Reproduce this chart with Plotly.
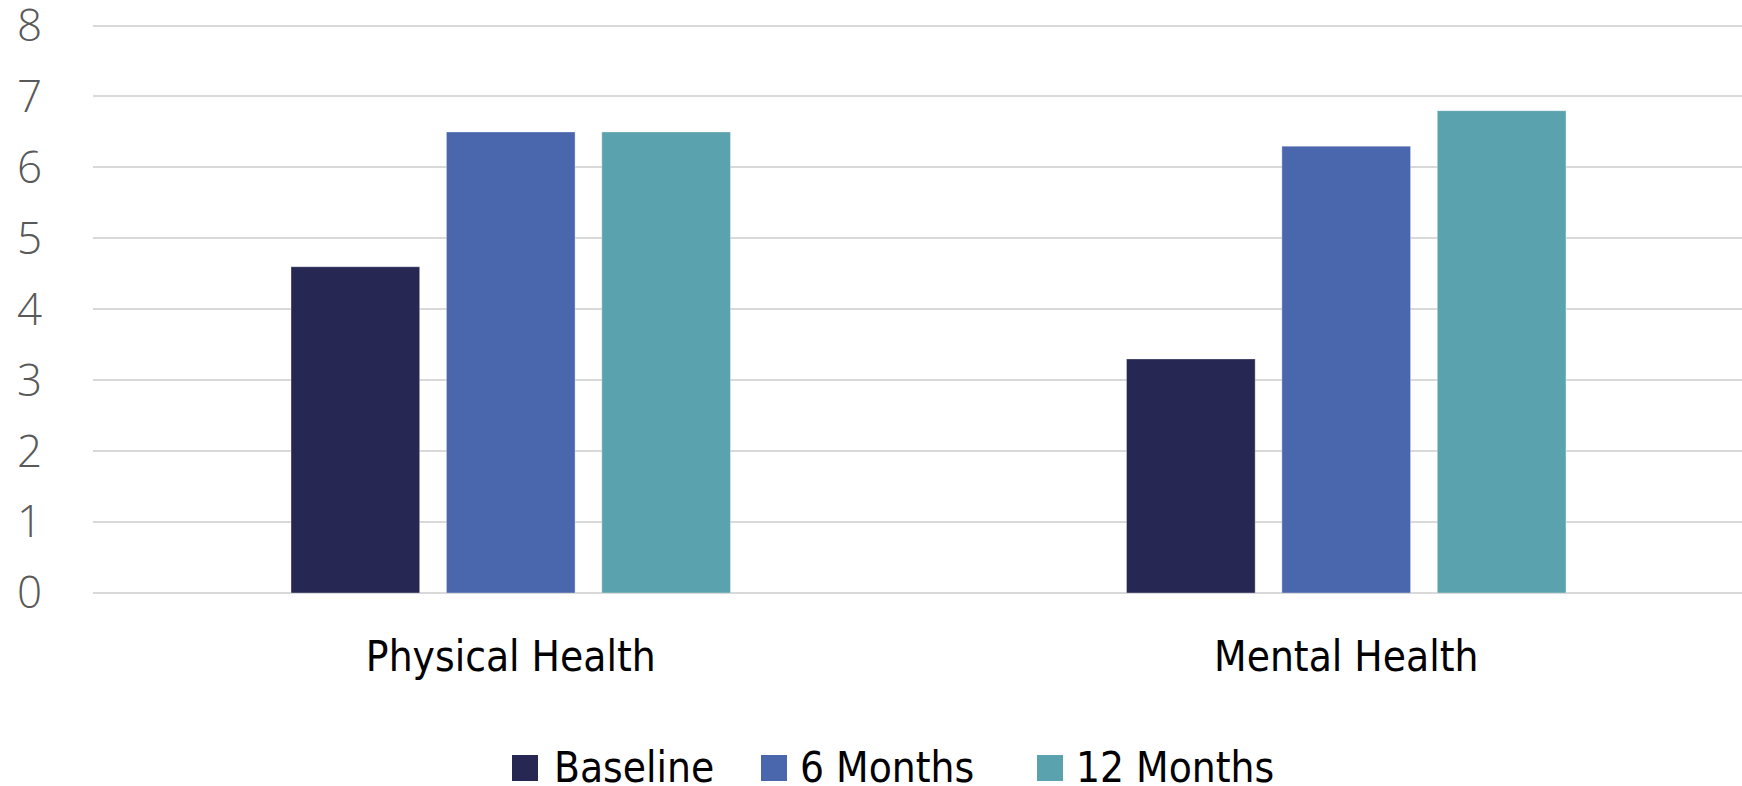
import plotly.graph_objects as go

categories = ["Physical Health", "Mental Health"]
series_names = ["Baseline", "6 Months", "12 Months"]
baseline = [4.6, 3.3]
six_months = [6.5, 6.3]
twelve_months = [6.5, 6.8]
y_ticks = [0, 1, 2, 3, 4, 5, 6, 7, 8]

colors = ["#262853", "#4A66AC", "#5AA2AE"]
label_font = "Liberation Sans Narrow, DejaVu Sans Condensed, sans-serif"

# plot area in pixels
W, H = 1742, 786
L, R, T, B = 93, 0, 22, 193
pw, ph = W - L - R, H - T - B


def px_x(px):
    return (px - L) / pw


def px_y(py):
    return (H - B - py) / ph


fig = go.Figure()
for name, vals, col in zip(series_names, [baseline, six_months, twelve_months], colors):
    fig.add_trace(go.Bar(
        x=[0, 1], y=vals, name=name,
        marker=dict(color=col, line=dict(color="rgba(255,255,255,0.35)", width=1)),
        showlegend=False,
    ))

# legend drawn below the axis: colour swatch + label per series
swatch_left = [512, 761, 1037]
text_left = [552, 798, 1074]
legend_mid = 767
for name, col, sx, tx in zip(series_names, colors, swatch_left, text_left):
    fig.add_shape(
        type="rect", xref="paper", yref="paper",
        x0=px_x(sx), x1=px_x(sx + 26), y0=px_y(legend_mid + 14), y1=px_y(legend_mid - 12),
        fillcolor=col, line=dict(width=0),
    )
    fig.add_annotation(
        xref="paper", yref="paper", x=px_x(tx), y=px_y(legend_mid),
        xanchor="left", yanchor="middle", showarrow=False, text=name,
        font=dict(family=label_font, size=42, color="#000000"),
    )

fig.update_layout(
    width=W, height=H,
    margin=dict(l=L, r=R, t=T, b=B, autoexpand=False),
    paper_bgcolor="white", plot_bgcolor="white",
    barmode="group", bargap=0.442, bargroupgap=0.172,
    showlegend=False,
    xaxis=dict(
        range=[-0.5, 1.4737],
        tickmode="array", tickvals=[0, 1], ticktext=categories,
        showgrid=False, zeroline=False, showline=False, ticks="",
        tickfont=dict(family=label_font, size=42, color="#000000"),
        ticklabelstandoff=35,
    ),
    yaxis=dict(
        range=[0, 8.05], tickmode="array", tickvals=y_ticks,
        showgrid=True, gridcolor="#D9D9D9", gridwidth=1.5,
        zeroline=True, zerolinecolor="#D9D9D9", zerolinewidth=1.5,
        showline=False, ticks="",
        tickfont=dict(family="Open Sans", size=44, color="#595959", weight=300),
        ticklabelstandoff=50, ticklabeloverflow="allow",
    ),
)

fig.write_html("out.html")
